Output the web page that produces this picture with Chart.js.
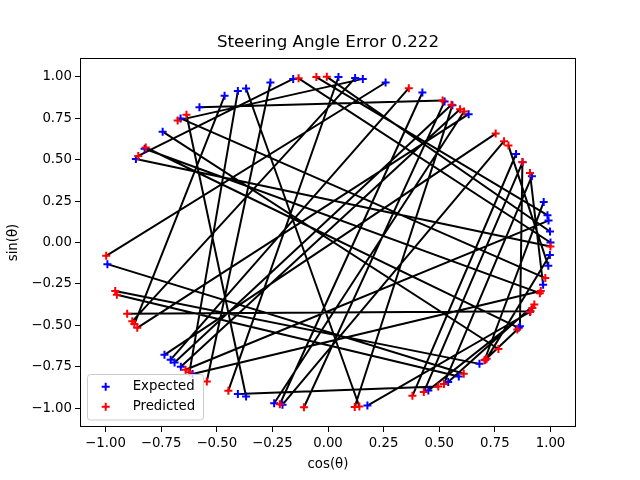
<!DOCTYPE html>
<html>
<head>
<meta charset="utf-8">
<script src="https://cdn.jsdelivr.net/npm/chart.js@4.4.0/dist/chart.umd.min.js"></script>
<style>
  html, body { margin: 0; padding: 0; background: #fff; }
</style>
</head>
<body>
<canvas id="steering" width="640" height="480"></canvas>
<script>
  // angles in degrees; expectedDeg[i] pairs with predictedDeg[i]
  const expectedDeg = [125.3, 81, 105, 87.3, -111.6, -113.9, 138, 75, -172.5, -47.1,
    -54, -24.5, 50.8, 83, -135, -133.6, -131.4, -137.3, -104, -101.8,
    149.7, 99, -31, 145.5, 131.5, 117.7, 113.9, 111.6, 64.9, 58.4,
    56, 32.3, 29, 23.6, 14.2, 9.5, 7.6, 3.8, 0, -4.3,
    -8.1, -30.4, -14.8, -57.3, -63.2, -79.8, -127.5, -45];
  const predictedDeg = [59, 132.5, -123, -116.6, 129.5, -60.3, -40, -175.4, -52.4, -163,
    -161.6, -154.5, -149, -151.6, 68.7, 56.3, 53.6, 41.1, 52.3, 37.7,
    -1.4, 148.5, 145, -17.8, -12.4, -150.5, -128.5, -81.9, -102.5, -96.2,
    -83.1, -67.7, -64.5, -58.6, -45.3, 93, -129.8, 90.3, 97.6, -44.5,
    35.8, 29.1, 24.8, -22, -23.3, -24.8, -17, -31.7];
  const xTicks = [-1, -0.75, -0.5, -0.25, 0, 0.25, 0.5, 0.75, 1];
  const yTicks = [-1, -0.75, -0.5, -0.25, 0, 0.25, 0.5, 0.75, 1];

  const toPoint = d => ({ x: Math.cos(d * Math.PI / 180), y: Math.sin(d * Math.PI / 180) });
  const expected = expectedDeg.map(toPoint);
  const predicted = predictedDeg.map(toPoint);

  // one segment per pair, broken by null points
  const segments = [];
  expected.forEach((e, i) => {
    segments.push(e, predicted[i], { x: null, y: null });
  });

  const fmt = v => (v < 0 ? '\u2212' : '') + Math.abs(v).toFixed(2);

  Chart.defaults.color = '#000';
  Chart.defaults.font.family = 'DejaVu Sans';
  Chart.defaults.font.size = 13.3;

  const frame = {
    id: 'frame',
    afterDatasetsDraw(chart) {
      const { ctx, chartArea: a } = chart;
      ctx.save();
      ctx.strokeStyle = '#000';
      ctx.lineWidth = 1;
      ctx.strokeRect(Math.round(a.left) + 0.5, Math.round(a.top) + 0.5,
        Math.round(a.right - a.left) - 1, Math.round(a.bottom - a.top) - 1);
      ctx.restore();
    }
  };

  const legendBox = {
    id: 'legendBox',
    afterDraw(chart) {
      const ctx = chart.ctx;
      ctx.save();
      ctx.beginPath();
      ctx.roundRect(87.5, 374.5, 116, 45.5, 3);
      ctx.fillStyle = 'rgba(255,255,255,0.8)';
      ctx.fill();
      ctx.strokeStyle = '#cccccc';
      ctx.lineWidth = 1;
      ctx.stroke();
      const items = [['Expected', '#0000ff', 386.7], ['Predicted', '#ff0000', 406.7]];
      items.forEach(([txt, col, y]) => {
        ctx.strokeStyle = col;
        ctx.lineWidth = 2;
        ctx.beginPath();
        ctx.moveTo(101.7, y); ctx.lineTo(109.7, y);
        ctx.moveTo(105.7, y - 4); ctx.lineTo(105.7, y + 4);
        ctx.stroke();
        ctx.fillStyle = '#000';
        ctx.font = '13.3px "DejaVu Sans"';
        ctx.textBaseline = 'middle';
        ctx.fillText(txt, 132.7, y);
      });
      ctx.restore();
    }
  };

  new Chart(document.getElementById('steering'), {
    type: 'scatter',
    data: {
      datasets: [
        {
          label: 'Predicted',
          data: predicted,
          pointStyle: 'cross',
          pointRadius: 4,
          pointBorderWidth: 2,
          borderColor: '#ff0000',
          backgroundColor: '#ff0000',
          order: 0
        },
        {
          label: 'Expected',
          data: expected,
          pointStyle: 'cross',
          pointRadius: 4,
          pointBorderWidth: 2,
          borderColor: '#0000ff',
          backgroundColor: '#0000ff',
          order: 1
        },
        {
          label: 'pairs',
          data: segments,
          showLine: true,
          spanGaps: false,
          pointRadius: 0,
          borderColor: '#000',
          borderWidth: 2,
          order: 2
        }
      ]
    },
    options: {
      responsive: false,
      animation: false,
      layout: { padding: { left: 0, top: 0, right: 64, bottom: 0 } },
      plugins: {
        legend: { display: false },
        tooltip: { enabled: false },
        title: {
          display: true,
          fullSize: false,
          text: 'Steering Angle Error 0.222',
          font: { size: 16.7, weight: 'normal' },
          padding: { top: 33, bottom: 5 }
        }
      },
      scales: {
        x: {
          type: 'linear',
          min: -1.1146,
          max: 1.1146,
          afterBuildTicks: s => { s.ticks = xTicks.map(v => ({ value: v })); },
          afterFit: s => { s.height = 53; },
          ticks: { callback: fmt, autoSkip: false, maxRotation: 0, padding: 4 },
          grid: { drawOnChartArea: false, drawTicks: true, tickLength: 5, tickColor: '#000' },
          border: { display: false },
          title: { display: true, text: 'cos(θ)', padding: { top: 0, bottom: 7 } }
        },
        y: {
          type: 'linear',
          min: -1.1136,
          max: 1.1136,
          afterBuildTicks: s => { s.ticks = yTicks.map(v => ({ value: v })); },
          afterFit: s => { s.width = 80; },
          ticks: { callback: fmt, autoSkip: false, padding: 3 },
          grid: { drawOnChartArea: false, drawTicks: true, tickLength: 5, tickColor: '#000' },
          border: { display: false },
          title: { display: true, text: 'sin(θ)', padding: { top: 6, bottom: 0 } }
        }
      }
    },
    plugins: [frame, legendBox]
  });
</script>
</body>
</html>
